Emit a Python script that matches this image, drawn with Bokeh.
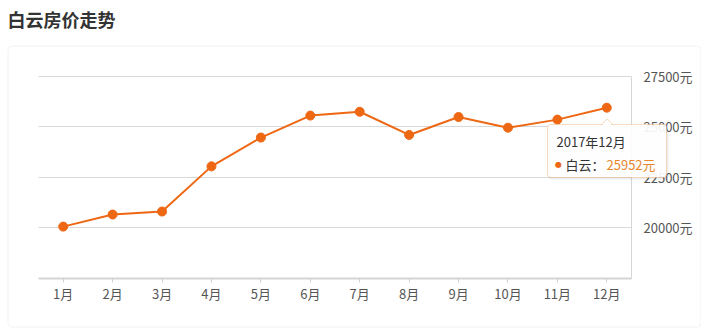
from bokeh.plotting import figure
from bokeh.models import Range1d, FixedTicker, BoxAnnotation, Label, PolyAnnotation
from bokeh.embed import file_html
from bokeh.resources import INLINE

# ---- data ----
months = ["1月", "2月", "3月", "4月", "5月", "6月", "7月", "8月", "9月", "10月", "11月", "12月"]
x_pos = [1, 2, 3, 4, 5, 6, 7, 8, 9, 10, 11, 12]
prices = [20050, 20650, 20800, 23040, 24470, 25560, 25750, 24600, 25490, 24960, 25360, 25952]
y_ticks = [20000, 22500, 25000, 27500]
y_tick_labels = ["20000元", "22500元", "25000元", "27500元"]
title_text = "白云房价走势"
series_name = "白云"
tooltip_year = "2017年"

FONT = "Noto Sans CJK SC"
LINE = "#ee6712"
TIP = "#e8862c"

W, H = 701, 334
# plot area (pixels) of the reference: x 38..631, y 76..277.5
X_LO, X_HI = 0.5, 12.5
Y_LO, Y_HI = 17500, 27500
PX_L, PX_R, PX_T, PX_B = 38, 631, 76, 277.5
xppu = (PX_R - PX_L) / (X_HI - X_LO)
yppu = (PX_B - PX_T) / (Y_HI - Y_LO)
x_range = Range1d(X_LO - PX_L / xppu, X_HI + (W - PX_R) / xppu)
y_range = Range1d(Y_LO - (H - PX_B) / yppu, Y_HI + PX_T / yppu)

p = figure(width=W, height=H, output_backend="svg", toolbar_location=None, tools="",
           x_range=x_range, y_range=y_range, y_axis_location="right",
           min_border=0, min_border_left=0, min_border_right=0, min_border_top=0, min_border_bottom=0)
p.outline_line_color = None
p.background_fill_color = "white"
p.border_fill_color = "white"

# x axis (fixed at bottom of plot area)
xa = p.xaxis[0]
xa.fixed_location = Y_LO
xa.bounds = (X_LO, X_HI)
xa.ticker = FixedTicker(ticks=x_pos)
xa.major_label_overrides = {x: m for x, m in zip(x_pos, months)}
xa.axis_line_color = "#d4d4d4"
xa.axis_line_width = 2
xa.major_tick_line_color = "#d0d0d0"
xa.major_tick_in = 0
xa.major_tick_out = 4
xa.minor_tick_line_color = None
xa.major_label_standoff = 2
xa.major_label_text_font = FONT
xa.major_label_text_font_size = "13px"
xa.major_label_text_color = "#555555"
p.xgrid.grid_line_color = None

# y axis (fixed at right of plot area)
ya = p.yaxis[0]
ya.fixed_location = X_HI
ya.bounds = (Y_LO, Y_HI)
ya.ticker = FixedTicker(ticks=y_ticks)
ya.major_label_overrides = {t: l for t, l in zip(y_ticks, y_tick_labels)}
ya.axis_line_color = "#d6d6d6"
ya.axis_line_width = 1
ya.major_tick_line_color = None
ya.minor_tick_line_color = None
ya.major_label_standoff = 6
ya.major_label_text_font = FONT
ya.major_label_text_font_size = "13px"
ya.major_label_text_color = "#555555"

yg = p.ygrid[0]
yg.ticker = FixedTicker(ticks=y_ticks)
yg.grid_line_color = "#d9d9d9"
yg.grid_line_width = 1
if "cross_bounds" in yg.properties():
    yg.cross_bounds = (X_LO, X_HI)
else:
    yg.grid_line_color = None
    p.segment(x0=[X_LO] * len(y_ticks), x1=[X_HI] * len(y_ticks), y0=y_ticks, y1=y_ticks,
              line_color="#d9d9d9", line_width=1)

# series
p.line(x_pos, prices, line_color=LINE, line_width=2)
p.scatter(x_pos, prices, size=9, fill_color=LINE, line_color=LINE)

CU = dict(left_units="canvas", right_units="canvas", top_units="canvas", bottom_units="canvas")

# card border
p.add_layout(BoxAnnotation(left=7.5, right=700.5, top=45.5, bottom=326.5, **CU,
                           fill_alpha=0, line_color="#d6d6d6", line_width=1, border_radius=4,
                           level="underlay"))

# title
p.add_layout(Label(x=7, y=18, x_units="canvas", y_units="canvas", text=title_text,
                   text_font=FONT, text_font_size="18px", text_font_style="bold",
                   text_color="#333333", text_baseline="middle", text_align="left"))

# tooltip
p.add_layout(BoxAnnotation(left=548, right=668, top=126, bottom=179, **CU,
                           fill_color="black", fill_alpha=0.07, line_color=None, border_radius=3,
                           level="overlay"))
p.add_layout(BoxAnnotation(left=547, right=666, top=124, bottom=177, **CU,
                           fill_color="white", fill_alpha=0.93, line_color=TIP, line_width=1,
                           border_radius=3, level="overlay"))
p.add_layout(PolyAnnotation(xs=[601, 606.7, 612], ys=[124, 118.3, 124], xs_units="canvas", ys_units="canvas",
                            fill_color="white", fill_alpha=1, line_color=TIP, line_width=1, level="overlay"))
p.add_layout(BoxAnnotation(left=602, right=611, top=123.4, bottom=125, **CU,
                           fill_color="white", fill_alpha=1, line_color=None, level="overlay"))

p.add_layout(Label(x=556, y=141, x_units="canvas", y_units="canvas", text=tooltip_year + months[-1],
                   text_font=FONT, text_font_size="13px", text_color="#333333",
                   text_baseline="middle", text_align="left", level="overlay"))
p.add_layout(Label(x=558, y=164, x_units="canvas", y_units="canvas", text="●",
                   text_font="DejaVu Sans", text_font_size="8px", text_color=LINE,
                   text_baseline="middle", text_align="center", level="overlay"))
p.add_layout(Label(x=565, y=164, x_units="canvas", y_units="canvas", text=series_name + "：",
                   text_font=FONT, text_font_size="13px", text_color="#333333",
                   text_baseline="middle", text_align="left", level="overlay"))
p.add_layout(Label(x=606, y=164, x_units="canvas", y_units="canvas", text=f"{prices[-1]}元",
                   text_font=FONT, text_font_size="13px", text_color=TIP,
                   text_baseline="middle", text_align="left", level="overlay"))

open("out.html", "w").write(file_html(p, INLINE))
